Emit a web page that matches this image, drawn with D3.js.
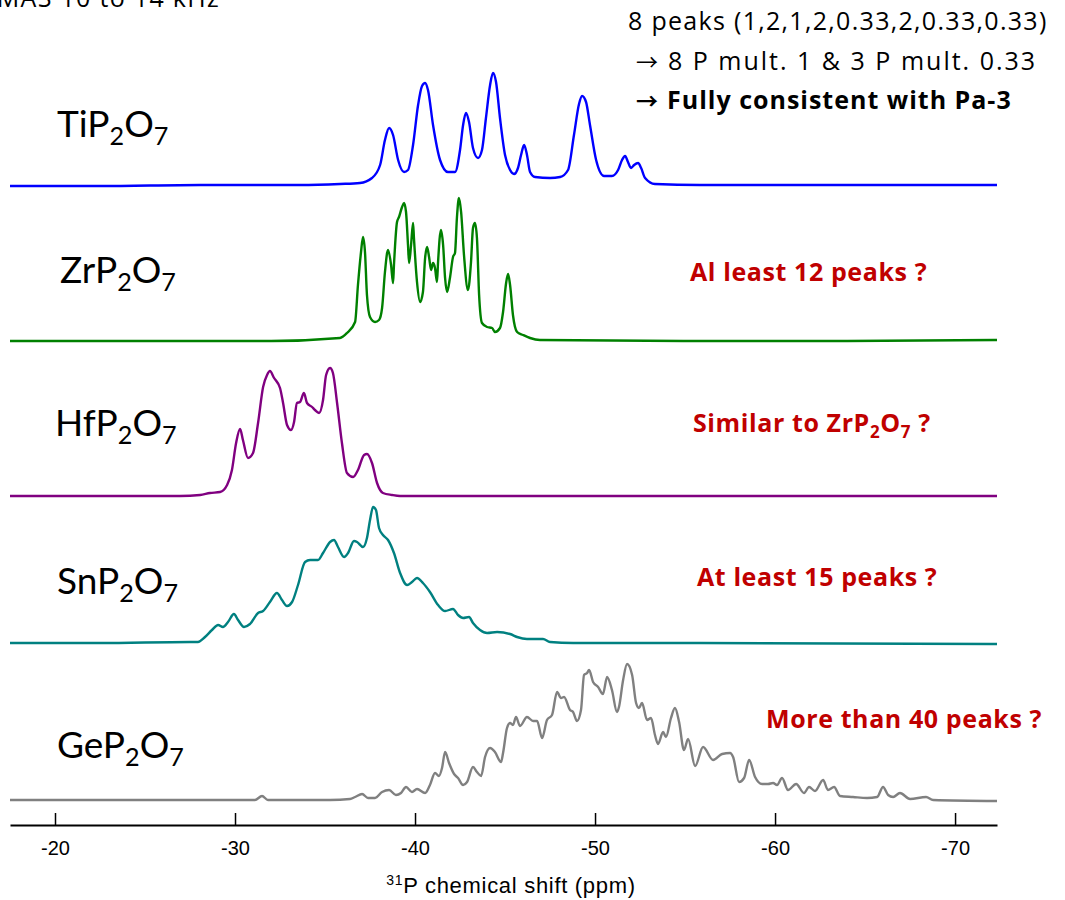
<!DOCTYPE html>
<html>
<head>
<meta charset="utf-8">
<script src="https://cdn.jsdelivr.net/npm/d3@7"></script>
<style>
  body { margin: 0; background: #fff; }
  svg { display: block; }
</style>
</head>
<body>
<div id="nmr"></div>
<script>
// ---- data: shift (ppm) and intensity (arb.) ----
var compounds = ["Ti", "Zr", "Hf", "Sn", "Ge"];

var tiShift = [-17.5,-22.5,-28.06,-33.61,-35.83,-36.94,-37.61,-38.06,-38.33,-38.56,-38.78,-39.06,-39.39,-39.61,-39.89,-40.17,-40.39,-40.56,-40.72,-41.0,-41.39,-41.83,-42.22,-42.5,-42.67,-42.83,-43.0,-43.22,-43.5,-43.72,-43.94,-44.17,-44.33,-44.5,-44.72,-45.0,-45.28,-45.5,-45.72,-45.89,-46.06,-46.22,-46.39,-46.67,-47.5,-48.06,-48.5,-48.83,-49.11,-49.28,-49.5,-49.72,-50.06,-50.5,-50.94,-51.28,-51.5,-51.67,-51.83,-52.0,-52.17,-52.39,-52.56,-52.78,-53.33,-55.83,-61.39,-66.94,-72.33];
var tiInt   = [-1,-1,0,0,1,2,7,20,45,57,50,25,13,15,40,80,99,102,95,60,25,13,13,35,60,72,63,37,27,35,67,100,112,103,67,30,15,11,17,30,40,30,13,8,7,8,15,50,81,89,83,60,25,9,9,15,25,29,23,17,20,22,17,7,1,0,0,0,0];

var zrShift = [-17.5,-26.0,-32.0,-35.83,-36.22,-36.67,-36.83,-37.0,-37.11,-37.22,-37.33,-37.5,-37.78,-38.0,-38.17,-38.33,-38.5,-38.67,-38.78,-38.83,-39.0,-39.11,-39.28,-39.39,-39.5,-39.61,-39.67,-39.78,-39.89,-39.94,-40.11,-40.28,-40.44,-40.56,-40.67,-40.78,-40.89,-41.0,-41.11,-41.22,-41.28,-41.44,-41.56,-41.67,-41.78,-41.94,-42.11,-42.22,-42.33,-42.44,-42.56,-42.72,-42.94,-43.11,-43.22,-43.33,-43.44,-43.56,-43.72,-44.0,-44.28,-44.44,-44.72,-44.89,-45.06,-45.17,-45.28,-45.44,-45.67,-46.0,-46.39,-46.94,-55.0,-64.0,-72.33];
var zrInt   = [0,0,0,3,8,19,56,89,104,89,46,24,19,21,33,69,91,76,58,76,119,124,134,138,129,96,78,96,118,103,59,39,49,83,94,84,71,78,73,59,79,111,96,63,49,63,84,88,124,143,129,86,51,79,113,118,103,46,18,14,13,9,13,29,58,67,56,26,9,6,3,1,0,0,1];

var hfShift = [-17.5,-22.5,-26.94,-28.06,-28.61,-29.17,-29.56,-29.83,-30.06,-30.28,-30.44,-30.72,-31.0,-31.28,-31.56,-31.78,-31.94,-32.17,-32.5,-32.67,-32.89,-33.11,-33.28,-33.44,-33.61,-33.83,-34.0,-34.28,-34.44,-34.67,-34.89,-35.06,-35.28,-35.44,-35.67,-35.94,-36.22,-36.56,-36.83,-37.17,-37.33,-37.61,-37.89,-38.22,-38.72,-39.17,-44.72,-55.83,-72.33];
var hfInt   = [0,0,0,1,3,4,11,26,53,67,56,38,43,73,109,121,125,118,108,93,71,66,74,93,94,103,93,89,86,83,96,121,128,123,93,53,23,19,26,41,42,33,13,3,1,0,0,0,0];

var snShift = [-17.5,-22.5,-27.5,-27.94,-28.33,-28.72,-29.06,-29.33,-29.61,-29.94,-30.17,-30.5,-30.83,-31.28,-31.56,-31.94,-32.33,-32.61,-32.89,-33.17,-33.5,-33.89,-34.17,-34.61,-34.89,-35.28,-35.5,-35.72,-36.06,-36.28,-36.61,-36.78,-37.11,-37.33,-37.5,-37.67,-37.83,-38.0,-38.22,-38.5,-38.83,-39.17,-39.56,-39.83,-40.11,-40.44,-40.83,-41.28,-41.67,-42.11,-42.39,-42.67,-43.0,-43.22,-43.61,-44.0,-44.56,-45.28,-45.67,-46.22,-47.11,-47.5,-48.78,-55.83,-72.33];
var snInt   = [0,0,1,1,6,13,18,16,21,29,23,16,19,30,32,41,50,43,37,41,58,81,83,83,90,101,103,96,86,90,102,101,96,105,123,136,133,115,108,103,90,70,58,61,65,60,51,38,32,34,28,25,26,20,13,10,11,9,6,4,4,1,0,0,-1];

var geShift = [-17.5,-22.5,-28.06,-31.11,-31.5,-31.83,-35.28,-36.39,-36.67,-37.06,-37.39,-37.78,-38.17,-38.56,-38.94,-39.22,-39.5,-39.83,-40.11,-40.56,-40.83,-41.11,-41.33,-41.5,-41.67,-41.89,-42.17,-42.39,-42.67,-42.89,-43.22,-43.44,-43.67,-43.89,-44.17,-44.44,-44.78,-44.89,-45.11,-45.28,-45.44,-45.61,-45.83,-46.22,-46.56,-46.78,-47.06,-47.33,-47.61,-47.89,-48.11,-48.28,-48.61,-48.78,-49.0,-49.22,-49.39,-49.56,-49.67,-49.89,-50.17,-50.44,-50.67,-50.94,-51.22,-51.33,-51.56,-51.78,-52.06,-52.28,-52.44,-52.61,-52.89,-53.11,-53.33,-53.5,-53.78,-53.94,-54.22,-54.44,-54.67,-54.94,-55.17,-55.56,-56.0,-56.56,-57.06,-57.5,-57.67,-58.0,-58.28,-58.56,-58.89,-59.28,-59.61,-59.89,-60.11,-60.39,-60.72,-61.17,-61.61,-61.89,-62.22,-62.67,-62.94,-63.28,-63.61,-64.33,-65.11,-65.67,-66.0,-66.28,-66.56,-66.94,-67.5,-68.39,-68.78,-72.33];
var geInt   = [0,0,0,0,4,0,0,1,3,6,2,2,8,10,5,7,13,8,11,7,15,27,24,32,48,37,26,22,15,18,33,28,24,43,52,48,38,47,72,77,75,83,74,83,79,79,62,80,85,108,102,103,90,88,79,90,125,127,130,118,113,106,123,110,88,93,120,136,125,97,92,97,80,82,65,56,68,63,82,92,78,50,61,34,53,40,46,47,43,18,22,40,23,16,16,17,15,22,10,16,7,13,9,20,10,13,4,3,2,3,13,5,3,7,1,3,0,-1];

var notes = ["", "Al least 12 peaks ?", "Similar to ZrP\u2082O\u2087 ?", "At least 15 peaks ?", "More than 40 peaks ?"];
var xTicks = [-20, -30, -40, -50, -60, -70];

var headerArrow = [false, true, true];
var header = ["8 peaks (1,2,1,2,0.33,2,0.33,0.33)",
              "8 P mult. 1 & 3 P mult. 0.33",
              "Fully consistent with Pa-3"];

// ---- layout ----
var W = 1065, H = 900;
var colors = ["#0000ff", "#008000", "#800080", "#008080", "#808080"];
var baseY = [185, 341, 496, 643, 800];
var labelY = [137, 283, 436, 594, 758];
var labelX = [57, 60, 55, 57, 57];
var noteX = [0, 690, 693, 697, 766];
var noteY = [0, 281, 432, 586, 728];
var axisY = 825;
var txtFont = "'Open Sans', 'Noto Sans', sans-serif";

var svg = d3.select("#nmr").append("svg")
    .attr("width", W)
    .attr("height", H);

var x = d3.scaleLinear().domain([-17.5, -72.33]).range([10, 997]);

var series = [
    {shift: tiShift, inten: tiInt},
    {shift: zrShift, inten: zrInt},
    {shift: hfShift, inten: hfInt},
    {shift: snShift, inten: snInt},
    {shift: geShift, inten: geInt}
];

series.forEach(function (s, i) {
    var y = d3.scaleLinear().domain([0, 100]).range([baseY[i], baseY[i] - 100]);
    var pts = s.shift.map(function (d, j) { return [d, s.inten[j]]; });
    var line = d3.line()
        .x(function (d) { return x(d[0]); })
        .y(function (d) { return y(d[1]); })
        .curve(d3.curveMonotoneX);
    svg.append("path")
        .datum(pts)
        .attr("fill", "none")
        .attr("stroke", colors[i])
        .attr("stroke-width", 2.4)
        .attr("stroke-linejoin", "round")
        .attr("d", line);
});

// compound names with sub-scripts
function formula(sel, metal, size) {
    sel.append("tspan").text(metal + "P");
    sel.append("tspan").attr("dy", size * 0.22).attr("font-size", size * 0.68).text("2");
    sel.append("tspan").attr("dy", -size * 0.22).text("O");
    sel.append("tspan").attr("dy", size * 0.22).attr("font-size", size * 0.68).text("7");
}

compounds.forEach(function (m, i) {
    var t = svg.append("text")
        .attr("x", labelX[i])
        .attr("y", labelY[i])
        .attr("font-family", "Lato, 'Open Sans', sans-serif")
        .attr("font-size", 37)
        .attr("fill", "#000");
    formula(t, m, 37);
});

// red remarks
notes.forEach(function (n, i) {
    if (!n) return;
    var t = svg.append("text")
        .attr("x", noteX[i])
        .attr("y", noteY[i])
        .attr("font-family", txtFont)
        .attr("font-weight", "bold")
        .attr("font-size", 25)
        .attr("letter-spacing", 0.6)
        .attr("fill", "#c00000");
    if (i == 2) {
        t.append("tspan").text("Similar to Zr");
        formula(t, "", 25);
        t.append("tspan").attr("dy", -25 * 0.22).text(" ?");
    } else {
        t.text(n);
    }
});

// header text
var hx = [628, 636, 636], hy = [30, 70, 109], hTextX = [628, 668, 667];
var hSpacing = [1.3, 2.0, 1.0];
header.forEach(function (h, i) {
    var t = svg.append("text")
        .attr("x", hx[i])
        .attr("y", hy[i])
        .attr("font-family", txtFont)
        .attr("font-size", 25)
        .attr("font-weight", i == 2 ? "bold" : "normal")
        .attr("fill", "#000");
    if (headerArrow[i]) {
        t.append("tspan")
            .attr("font-family", "'Noto Sans CJK SC', 'DejaVu Sans', sans-serif")
            .attr("font-size", 22)
            .text("\u2192");
    }
    t.append("tspan")
        .attr("x", hTextX[i])
        .attr("letter-spacing", hSpacing[i])
        .text(h);
});

svg.append("text")
    .attr("x", 220)
    .attr("y", 7)
    .attr("text-anchor", "end")
    .attr("font-family", txtFont)
    .attr("font-size", 25)
    .attr("letter-spacing", 1.3)
    .text("MAS 10 to 14 kHz");

// x axis, ticks pointing up
var axis = d3.axisTop(x).tickValues(xTicks).tickSize(12).tickSizeOuter(0).tickFormat(d3.format("d"));
var gx = svg.append("g")
    .attr("transform", "translate(0," + axisY + ")")
    .call(axis);
gx.select(".domain").attr("stroke", "#000").attr("stroke-width", 2);
gx.selectAll(".tick line").attr("stroke", "#000").attr("stroke-width", 1.5);
gx.selectAll(".tick text")
    .attr("y", 30)
    .attr("dy", 0)
    .attr("font-family", "'Liberation Sans', Arial, sans-serif")
    .attr("font-size", 20)
    .attr("fill", "#000")
    .text(function (d) { return "-" + Math.abs(d); });

var title = svg.append("text")
    .attr("x", 511)
    .attr("y", 893)
    .attr("text-anchor", "middle")
    .attr("font-family", "'Liberation Sans', Arial, sans-serif")
    .attr("font-size", 22)
    .attr("letter-spacing", 0.7)
    .attr("fill", "#000");
title.append("tspan").attr("font-size", 14).attr("dy", -8).text("31");
title.append("tspan").attr("dy", 8).text("P chemical shift (ppm)");
</script>
</body>
</html>
